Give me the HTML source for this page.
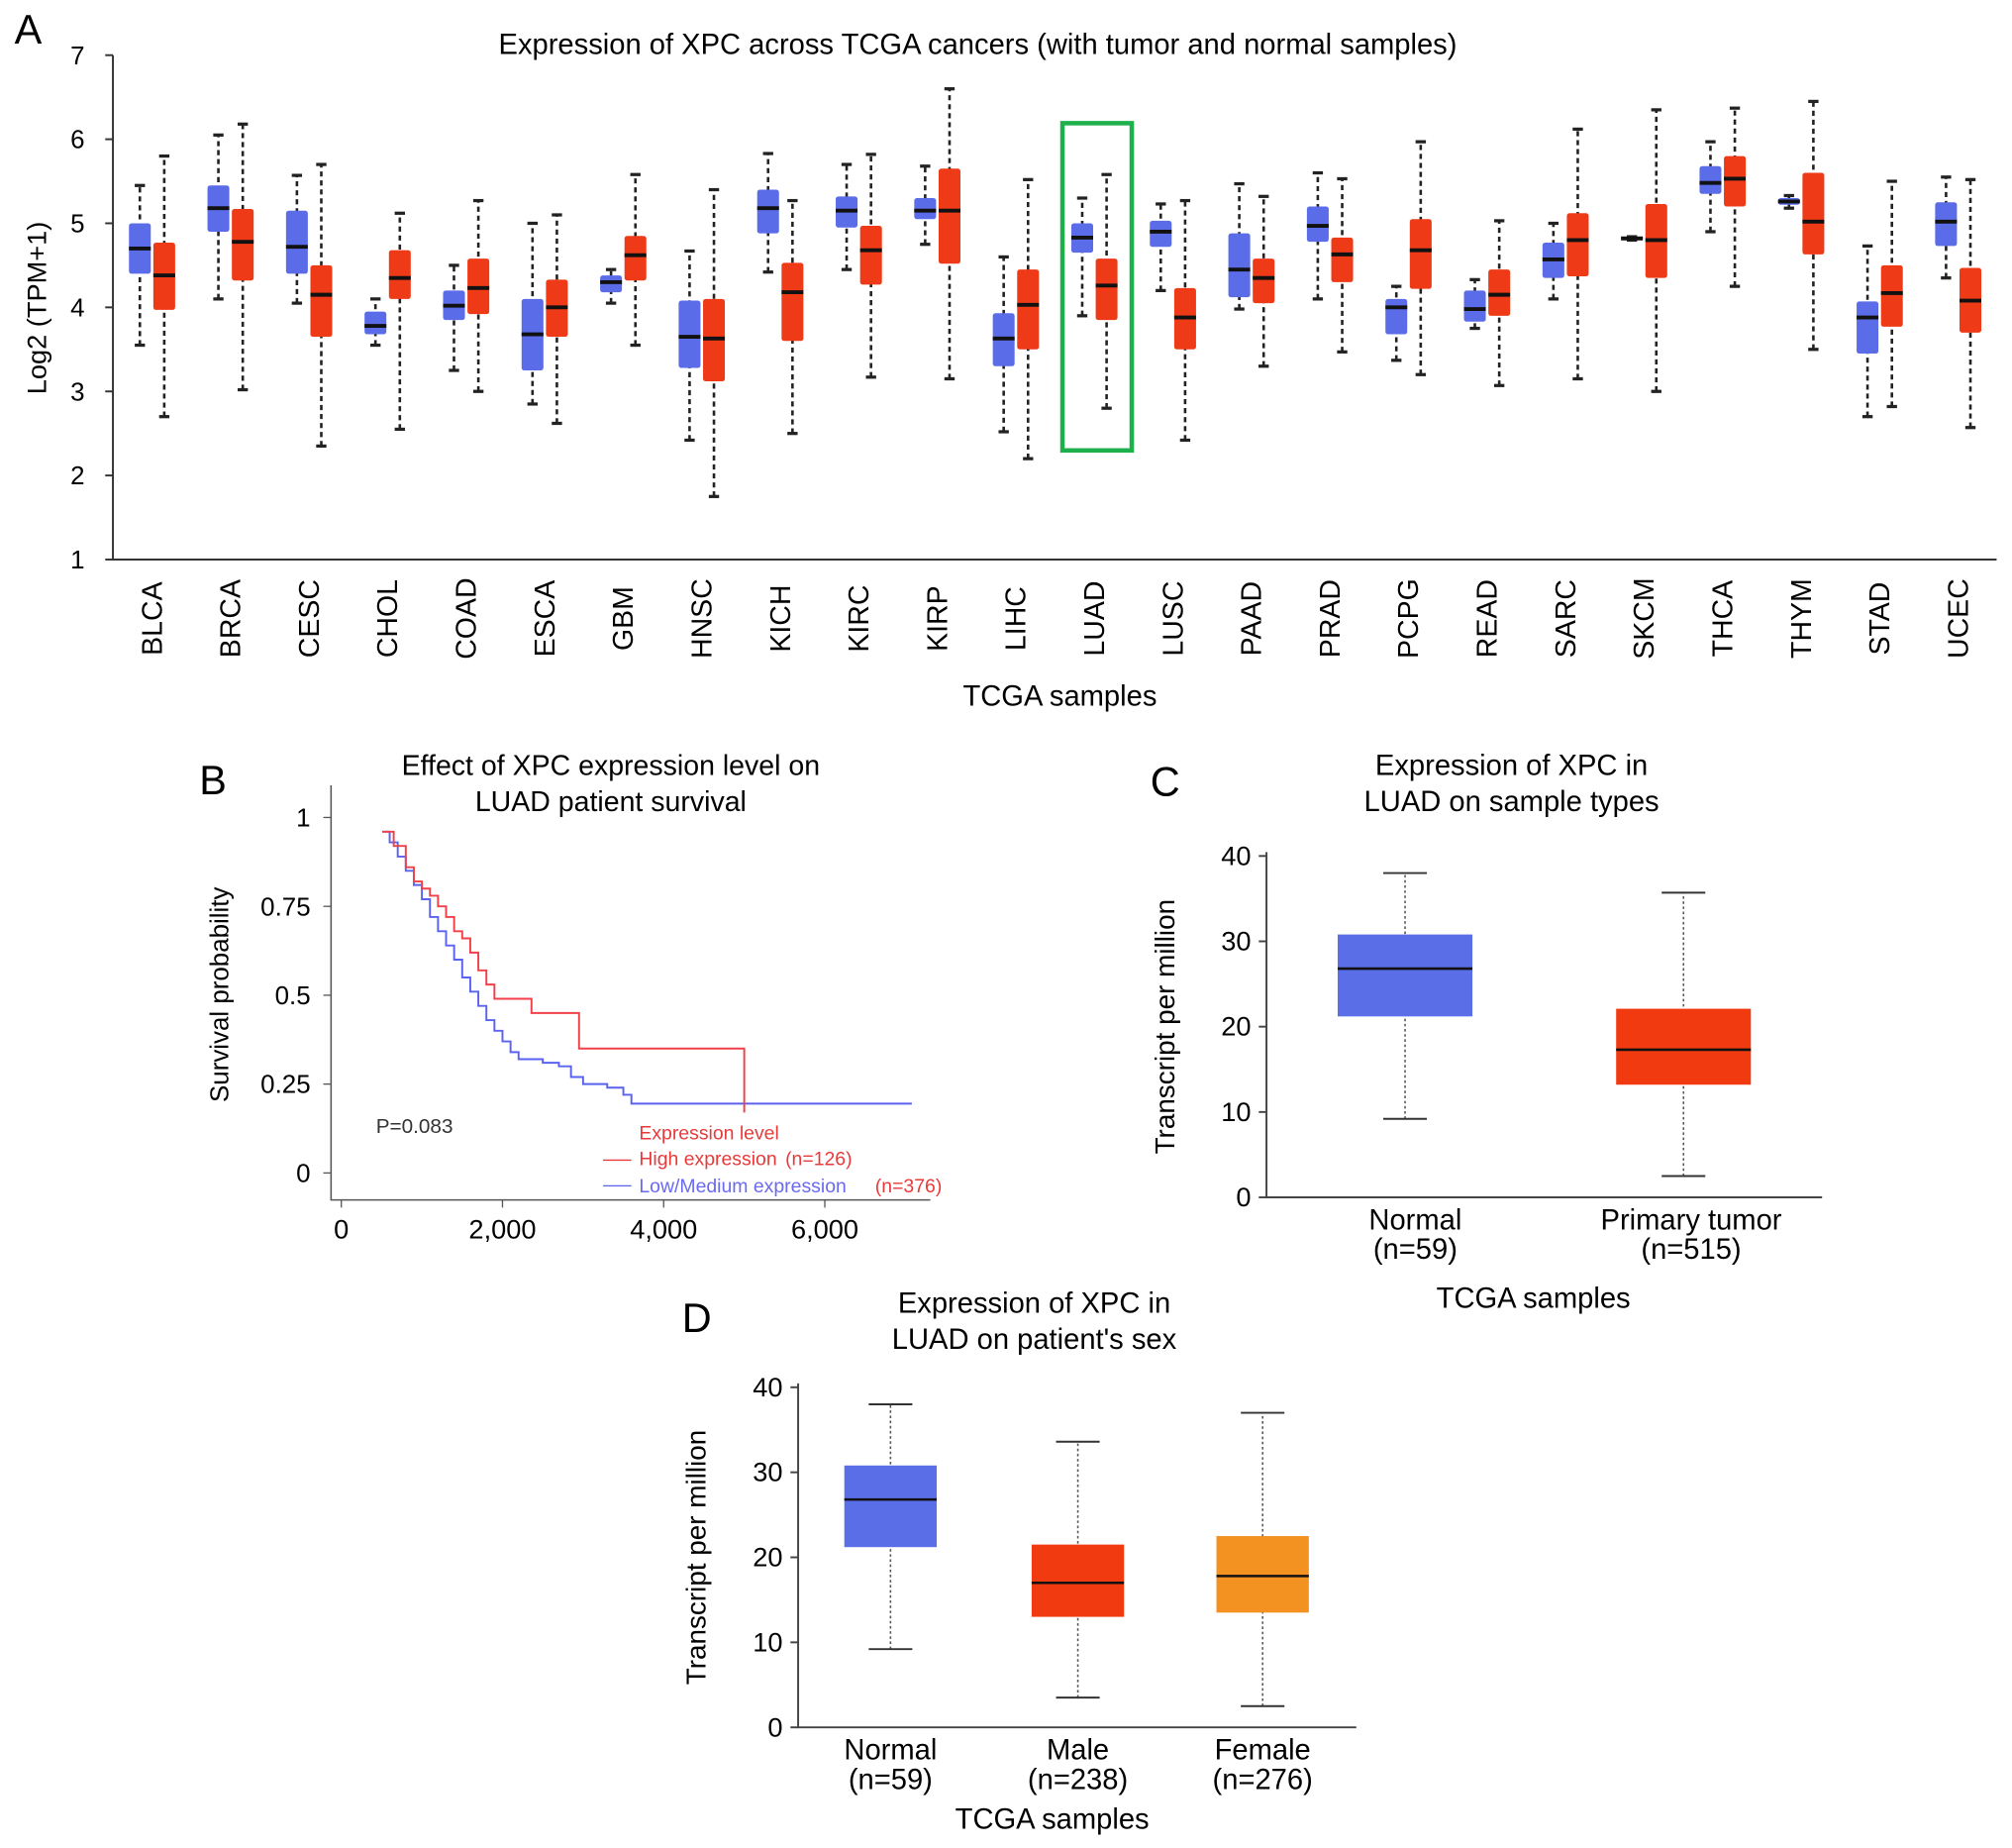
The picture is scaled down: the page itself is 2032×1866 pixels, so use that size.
<!DOCTYPE html>
<html><head><meta charset="utf-8"><style>
html,body{margin:0;padding:0;background:#fff}
svg{display:block;font-family:"Liberation Sans",sans-serif}
</style></head><body>
<svg id="fig" width="2032" height="1866" viewBox="0 0 1568 1440" preserveAspectRatio="none">
<g id="pa"></g>
<g id="pb"></g>
<g id="pc"></g>
<g id="pd"></g>
</svg>
<script>
// ---------- Panel A data ----------
const cancers=["BLCA","BRCA","CESC","CHOL","COAD","ESCA","GBM","HNSC","KICH","KIRC","KIRP","LIHC","LUAD","LUSC","PAAD","PRAD","PCPG","READ","SARC","SKCM","THCA","THYM","STAD","UCEC"];
const normalStats=[[3.55,4.4,4.7,5.0,5.45],[4.1,4.9,5.18,5.45,6.05],[4.05,4.4,4.72,5.15,5.57],[3.55,3.68,3.78,3.95,4.1],[3.25,3.85,4.02,4.2,4.5],[2.85,3.25,3.68,4.1,5.0],[4.05,4.18,4.3,4.38,4.45],[2.42,3.28,3.65,4.08,4.67],[4.42,4.88,5.18,5.4,5.83],[4.45,4.95,5.15,5.32,5.7],[4.75,5.05,5.15,5.3,5.68],[2.52,3.3,3.63,3.93,4.6],[3.9,4.65,4.83,5.0,5.3],[4.2,4.72,4.9,5.03,5.23],[3.98,4.12,4.45,4.88,5.47],[4.1,4.78,4.97,5.2,5.6],[3.37,3.68,4.0,4.1,4.25],[3.75,3.83,3.98,4.2,4.33],[4.1,4.35,4.57,4.77,5.0],[4.8,4.8,4.82,4.84,4.84],[4.9,5.35,5.48,5.68,5.97],[5.18,5.22,5.26,5.3,5.33],[2.7,3.45,3.88,4.07,4.73],[4.35,4.73,5.02,5.25,5.55]];
const tumorStats=[[2.7,3.97,4.38,4.77,5.8],[3.02,4.32,4.78,5.17,6.18],[2.35,3.65,4.15,4.5,5.7],[2.55,4.1,4.35,4.68,5.12],[3.0,3.92,4.23,4.58,5.27],[2.62,3.65,4.0,4.33,5.1],[3.55,4.32,4.62,4.85,5.58],[1.75,3.12,3.63,4.1,5.4],[2.5,3.6,4.18,4.53,5.27],[3.17,4.27,4.68,4.97,5.82],[3.15,4.52,5.15,5.65,6.6],[2.2,3.5,4.03,4.45,5.52],[2.8,3.85,4.26,4.58,5.58],[2.42,3.5,3.88,4.23,5.27],[3.3,4.05,4.35,4.58,5.32],[3.47,4.3,4.63,4.83,5.53],[3.2,4.22,4.68,5.05,5.97],[3.07,3.9,4.15,4.45,5.03],[3.15,4.37,4.8,5.12,6.12],[3.0,4.35,4.8,5.23,6.35],[4.25,5.2,5.53,5.8,6.37],[3.5,4.63,5.02,5.6,6.45],[2.82,3.77,4.17,4.5,5.5],[2.57,3.7,4.08,4.47,5.52]];
const aTicks=[1,2,3,4,5,6,7];
// ---------- Panel B data ----------
const highTimes=[508,650,800,900,1000,1100,1200,1300,1400,1500,1600,1700,1800,1900,2360,2950,5000];
const highSurv=[0.96,0.92,0.86,0.82,0.80,0.78,0.75,0.72,0.68,0.66,0.62,0.57,0.53,0.49,0.45,0.35,0.17];
const lowTimes=[508,600,700,800,900,1000,1100,1200,1300,1400,1500,1600,1700,1800,1900,2000,2100,2200,2500,2700,2850,3000,3300,3500,3600,7080];
const lowSurv=[0.96,0.93,0.89,0.85,0.81,0.77,0.72,0.68,0.64,0.60,0.55,0.51,0.47,0.43,0.40,0.37,0.34,0.32,0.31,0.30,0.27,0.25,0.24,0.22,0.195,0.195];
const bYTicks=[0,0.25,0.5,0.75,1];
const bXTicks=[0,2000,4000,6000];
// ---------- Panel C/D data ----------
const cGroups=["Normal","Primary tumor"];
const cCounts=["(n=59)","(n=515)"];
const cStats=[[9.2,21.2,26.8,30.8,38],[2.5,13.2,17.3,22.1,35.7]];
const dGroups=["Normal","Male","Female"];
const dCounts=["(n=59)","(n=238)","(n=276)"];
const dStats=[[9.2,21.2,26.8,30.8,38],[3.5,13,17,21.5,33.6],[2.5,13.5,17.8,22.5,37]];
const tpmTicks=[0,10,20,30,40];

const NS="http://www.w3.org/2000/svg";
function mk(parent,tag,attrs,txt){const e=document.createElementNS(NS,tag);for(const k in attrs)e.setAttribute(k,attrs[k]);if(txt!==undefined)e.textContent=txt;parent.appendChild(e);return e;}

// ===== Panel A =====
(function(){
const g=document.getElementById('pa');
const y=v=>43+(7-v)*65.5;
const cx=i=>118+i*61.2;
let t;
t=mk(g,'text',{x:22,y:34,'font-size':32,'text-anchor':'middle'},'A');


t=mk(g,'text',{x:762,y:42,'font-size':22.5,'text-anchor':'middle'},'Expression of XPC across TCGA cancers (with tumor and normal samples)');


let ax=mk(g,'path',{d:'M88,43 V436 H1556',stroke:'#333','stroke-width':1.5,fill:'none'});


aTicks.forEach(v=>{
 mk(g,'line',{x1:82,x2:88,y1:y(v),y2:y(v),stroke:'#333','stroke-width':1.5});
 t=mk(g,'text',{x:66,y:y(v)+7,'font-size':20,'text-anchor':'end'},v);
 
 
});
t=mk(g,'text',{x:36,y:240,'font-size':21,'text-anchor':'middle',transform:'rotate(-90 36 240)'},'Log2 (TPM+1)');


t=mk(g,'text',{x:826,y:550,'font-size':22.5,'text-anchor':'middle'},'TCGA samples');


function box(x,s,col,w,name){
 const b=mk(g,'g',{});
 
 
 mk(b,'line',{x1:x,x2:x,y1:y(s[0]),y2:y(s[4]),stroke:'#222','stroke-width':2,'stroke-dasharray':'4 3'});
 mk(b,'line',{x1:x-4,x2:x+4,y1:y(s[0]),y2:y(s[0]),stroke:'#222','stroke-width':2.5});
 mk(b,'line',{x1:x-4,x2:x+4,y1:y(s[4]),y2:y(s[4]),stroke:'#222','stroke-width':2.5});
 mk(b,'rect',{x:x-w/2,y:y(s[3]),width:w,height:Math.max(2,y(s[1])-y(s[3])),fill:col,rx:2});
 mk(b,'line',{x1:x-w/2,x2:x+w/2,y1:y(s[2]),y2:y(s[2]),stroke:'#111','stroke-width':3});
}
cancers.forEach((c,i)=>{
 box(cx(i)-9,normalStats[i],'#5b6ce8',17,'box-normal-'+c.toLowerCase());
 box(cx(i)+10,tumorStats[i],'#ee3a17',17,'box-tumor-'+c.toLowerCase());
 t=mk(g,'text',{x:cx(i)+8,y:482,'font-size':22,'text-anchor':'middle',transform:`rotate(-90 ${cx(i)+8} 482)`},c);
 
 
});
let r=mk(g,'rect',{x:828,y:96,width:54,height:255,fill:'none',stroke:'#1eb04a','stroke-width':3.5});


})();

// ===== Panel B =====
(function(){
const g=document.getElementById('pb');
const x=v=>266+v*0.0628;
const y=v=>914-v*277;
let t;
t=mk(g,'text',{x:166,y:619,'font-size':32,'text-anchor':'middle'},'B');


t=mk(g,'text',{x:476,y:604,'font-size':22,'text-anchor':'middle'},'Effect of XPC expression level on');


mk(g,'text',{x:476,y:632,'font-size':22,'text-anchor':'middle'},'LUAD patient survival');
let ax=mk(g,'path',{d:'M258,612 V935 H725',stroke:'#555','stroke-width':1.2,fill:'none'});


bYTicks.forEach(v=>{mk(g,'line',{x1:252,x2:258,y1:y(v),y2:y(v),stroke:'#555'});
 t=mk(g,'text',{x:242,y:y(v)+7,'font-size':20,'text-anchor':'end'},String(v));
 
 });
bXTicks.forEach(v=>{mk(g,'line',{x1:x(v),x2:x(v),y1:935,y2:941,stroke:'#555'});
 t=mk(g,'text',{x:x(v),y:965,'font-size':21,'text-anchor':'middle'},v.toLocaleString('en-US'));
 
 });
t=mk(g,'text',{x:178,y:775,'font-size':20,'text-anchor':'middle',transform:'rotate(-90 178 775)'},'Survival probability');


function step(ts,ss){let d=`M${x(ts[0])},${y(ss[0])}`;for(let i=1;i<ts.length;i++){d+=` H${x(ts[i])} V${y(ss[i])}`;}return d;}
let p=mk(g,'path',{d:step(lowTimes,lowSurv),stroke:'#5a63f0','stroke-width':1.5,fill:'none'});


p=mk(g,'path',{d:step(highTimes,highSurv),stroke:'#f0404a','stroke-width':1.5,fill:'none'});


t=mk(g,'text',{x:293,y:883,'font-size':16,fill:'#333'},'P=0.083');


t=mk(g,'text',{x:498,y:888,'font-size':15,fill:'#e83a3a'},'Expression level');


mk(g,'line',{x1:470,x2:492,y1:904,y2:904,stroke:'#e83a3a'});
t=mk(g,'text',{x:498,y:908,'font-size':15,fill:'#e83a3a'},'High expression');


mk(g,'text',{x:612,y:908,'font-size':15,fill:'#e83a3a'},'(n=126)');
mk(g,'line',{x1:470,x2:492,y1:924,y2:924,stroke:'#5a63f0'});
t=mk(g,'text',{x:498,y:929,'font-size':15,fill:'#6a6af0'},'Low/Medium expression');


mk(g,'text',{x:682,y:929,'font-size':15,fill:'#e83a3a'},'(n=376)');
})();

// ===== Panels C & D =====
function boxPanel(id,letter,lx,ly,title1,title2,tx,ty,axX,axEnd,y0,perTen,centers,bw,groups,counts,stats,colors,xtX,xtY){
 const g=document.getElementById(id);
 const y=v=>y0-v*perTen/10;
 let t;
 t=mk(g,'text',{x:lx,y:ly,'font-size':32,'text-anchor':'middle'},letter);
 
 
 t=mk(g,'text',{x:tx,y:ty,'font-size':22.5,'text-anchor':'middle'},title1);
 
 
 mk(g,'text',{x:tx,y:ty+28,'font-size':22.5,'text-anchor':'middle'},title2);
 const top=y(40)-3;
 let ax=mk(g,'path',{d:`M${axX},${top} V${y0} H${axEnd}`,stroke:'#444','stroke-width':1.5,fill:'none'});
 
 
 tpmTicks.forEach(v=>{mk(g,'line',{x1:axX-6,x2:axX,y1:y(v),y2:y(v),stroke:'#444','stroke-width':1.5});
  t=mk(g,'text',{x:axX-12,y:y(v)+7,'font-size':21,'text-anchor':'end'},v);
  
  });
 const ylx=axX-72,yly=y(20);
 t=mk(g,'text',{x:ylx,y:yly,'font-size':21.5,'text-anchor':'middle',transform:`rotate(-90 ${ylx} ${yly})`},'Transcript per million');
 
 
 groups.forEach((gr,i)=>{
  const c=centers[i],s=stats[i];
  const b=mk(g,'g',{});
  
  
  mk(b,'line',{x1:c,x2:c,y1:y(s[0]),y2:y(s[4]),stroke:'#555','stroke-width':1.2,'stroke-dasharray':'2 2'});
  mk(b,'line',{x1:c-17,x2:c+17,y1:y(s[0]),y2:y(s[0]),stroke:'#333','stroke-width':1.5});
  mk(b,'line',{x1:c-17,x2:c+17,y1:y(s[4]),y2:y(s[4]),stroke:'#333','stroke-width':1.5});
  mk(b,'rect',{x:c-bw/2,y:y(s[3]),width:bw,height:y(s[1])-y(s[3]),fill:colors[i]});
  mk(b,'line',{x1:c-bw/2,x2:c+bw/2,y1:y(s[2]),y2:y(s[2]),stroke:'#111','stroke-width':2});
  const lxp=xtX?xtX[i]:c;
  t=mk(g,'text',{x:lxp,y:y0+25,'font-size':22.5,'text-anchor':'middle'},gr);
  
  
  t=mk(g,'text',{x:lxp,y:y0+48,'font-size':22.5,'text-anchor':'middle'},counts[i]);
  
  
 });
 t=mk(g,'text',{x:xtY[0],y:xtY[1],'font-size':22.5,'text-anchor':'middle'},'TCGA samples');
 
 
}
boxPanel('pc','C',908,620,'Expression of XPC in','LUAD on sample types',1178,604,987,1420,933,66.5,[1095,1312],105,cGroups,cCounts,cStats,['#5a6ee8','#f23a10'],[1103,1318],[1195,1019]);
boxPanel('pd','D',543,1038,'Expression of XPC in',"LUAD on patient's sex",806,1023,622,1057,1346,66.25,[694,840,984],72,dGroups,dCounts,dStats,['#5a6ee8','#f23a10','#f39121'],null,[820,1425]);
</script>
</body></html>
